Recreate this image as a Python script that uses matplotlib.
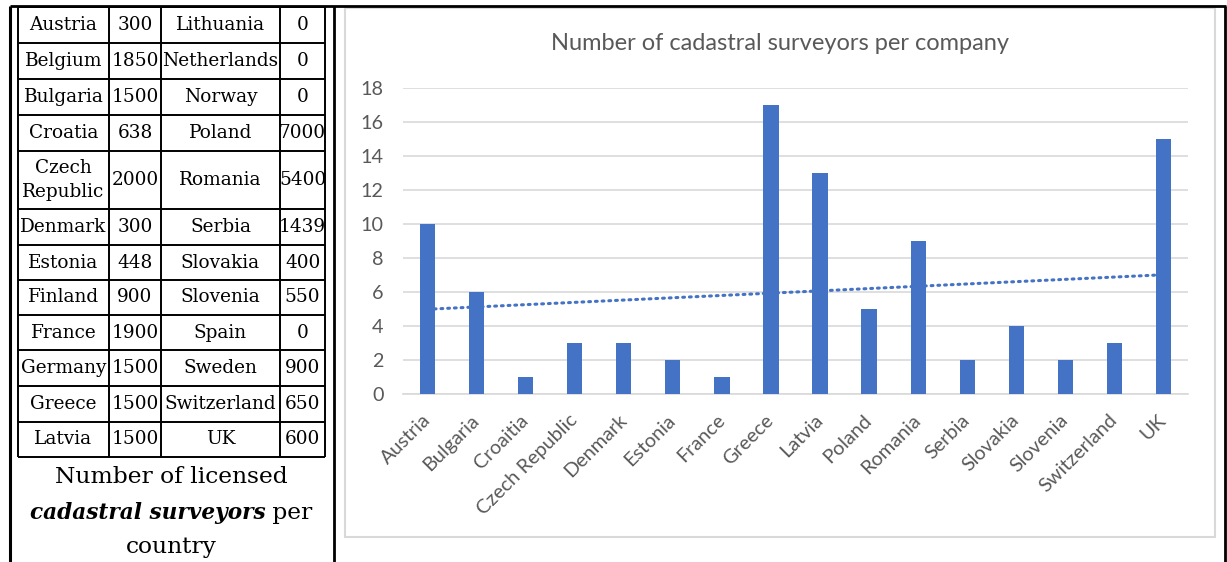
import numpy as np
import matplotlib.pyplot as plt
from matplotlib.lines import Line2D
from matplotlib.patches import Rectangle

# table: licensed cadastral surveyors per country
left_names = ["Austria", "Belgium", "Bulgaria", "Croatia", "Czech\nRepublic", "Denmark",
              "Estonia", "Finland", "France", "Germany", "Greece", "Latvia"]
left_vals = [300, 1850, 1500, 638, 2000, 300, 448, 900, 1900, 1500, 1500, 1500]
right_names = ["Lithuania", "Netherlands", "Norway", "Poland", "Romania", "Serbia",
               "Slovakia", "Slovenia", "Spain", "Sweden", "Switzerland", "UK"]
right_vals = [0, 0, 0, 7000, 5400, 1439, 400, 550, 0, 900, 650, 600]

# chart: surveyors per company
companies = ["Austria", "Bulgaria", "Croaitia", "Czech Republic", "Denmark", "Estonia",
             "France", "Greece", "Latvia", "Poland", "Romania", "Serbia", "Slovakia",
             "Slovenia", "Switzerland", "UK"]
per_company = [10, 6, 1, 3, 3, 2, 1, 17, 13, 5, 9, 2, 4, 2, 3, 15]

W, H = 1227, 562
fig = plt.figure(figsize=(W / 100, H / 100), dpi=100)

def fx(x):
    return x / W

def fy(y):
    return 1 - y / H

def line(x0, y0, x1, y1, lw):
    fig.add_artist(Line2D([fx(x0), fx(x1)], [fy(y0), fy(y1)], transform=fig.transFigure,
                          color='black', lw=lw, solid_capstyle='butt'))

# outer frame
line(10, 6, 1226, 6, 2.0)
line(10, 6, 10, 562, 2.2)
line(334, 6, 334, 562, 2.0)
line(1225, 6, 1225, 562, 2.0)

# inner table grid
rows = [7, 43, 79, 115, 151, 209, 245, 280, 315, 350, 386, 422, 457]
cols = [18, 109, 161, 280, 325]
for r in rows:
    line(cols[0], r, cols[-1], r, 1.4)
for c in cols:
    line(c, rows[0], c, rows[-1], 1.4)

serif = 'DejaVu Serif'
tsize = 13.3
for i in range(len(left_names)):
    yc = (rows[i] + rows[i + 1]) / 2
    cells = [left_names[i], str(left_vals[i]), right_names[i], str(right_vals[i])]
    for j, txt in enumerate(cells):
        xc = (cols[j] + cols[j + 1]) / 2
        fig.text(fx(xc), fy(yc), txt, ha='center', va='center', family=serif,
                 fontsize=tsize, linespacing=1.45)

# caption under the table
csize = 16.8
fig.text(fx(171), fy(477), "Number of licensed", ha='center', va='center', family=serif, fontsize=csize)
fig.text(fx(171), fy(547), "country", ha='center', va='center', family=serif, fontsize=csize)
t1 = fig.text(0, 0, "cadastral surveyors", family=serif, fontsize=15.6, weight='bold', style='italic')
t2 = fig.text(0, 0, " per", family=serif, fontsize=csize)
r = fig.canvas.get_renderer()
w1 = t1.get_window_extent(r).width
w2 = t2.get_window_extent(r).width
x0 = 171 - (w1 + w2) / 2
t1.set_position((fx(x0), fy(513)))
t1.set_va('center')
t2.set_position((fx(x0 + w1), fy(513)))
t2.set_va('center')

# chart frame
fig.add_artist(Rectangle((fx(345), fy(537)), (1215 - 345) / W, (537 - 8) / H,
                         transform=fig.transFigure, fill=False, edgecolor='#D9D9D9', lw=1.5))

gray = '#595959'
sans = 'Lato'
fig.text(fx(780), fy(44), "Number of cadastral surveyors per company", ha='center', va='center',
         family=sans, fontsize=17, color=gray)

ax = fig.add_axes([fx(403), fy(394), 785 / W, 306 / H])
x = np.arange(len(companies))
ax.bar(x, per_company, width=0.31, color='#4472C4', zorder=3)

coef = np.polyfit(x, per_company, 1)
ax.plot(x[[0, -1]], np.polyval(coef, x[[0, -1]]), linestyle=(0, (0.6, 1.6)), color='#4472C4',
        lw=2.2, dash_capstyle='round', zorder=4)

ax.set_xlim(-0.5, len(companies) - 0.5)
ax.set_ylim(0, 18)
ax.set_yticks(range(0, 19, 2))
ax.grid(axis='y', color='#D9D9D9', lw=1.2, zorder=0)
for s in ['top', 'right', 'left']:
    ax.spines[s].set_visible(False)
ax.spines['bottom'].set_color('#D9D9D9')
ax.spines['bottom'].set_linewidth(1.2)
ax.set_xticks(x, companies, rotation=45, ha='right', va='center', rotation_mode='anchor')
ax.tick_params(axis='x', length=0, pad=17, labelsize=14.3, labelcolor=gray)
ax.tick_params(axis='y', length=0, pad=14, labelsize=14.2, labelcolor=gray)
for lab in ax.get_xticklabels() + ax.get_yticklabels():
    lab.set_family(sans)

fig.savefig('out.png', dpi=100)
